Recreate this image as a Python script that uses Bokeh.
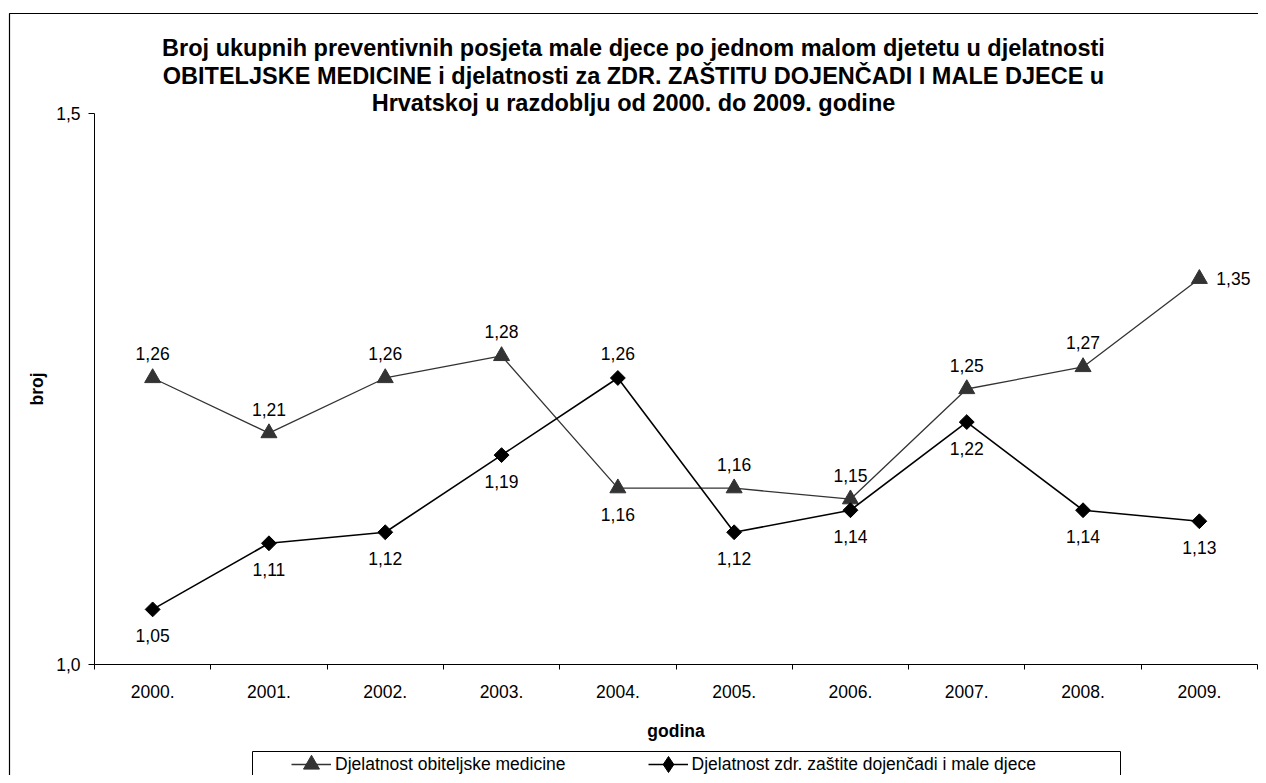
import numpy as np
from bokeh.plotting import figure
from bokeh.models import (Range1d, FixedTicker, BoxAnnotation, Label, Legend,
                          LegendItem, ColumnDataSource, LinearAxis)
from bokeh.core.properties import value
from bokeh.embed import file_html
from bokeh.resources import INLINE

# ---------------- data ----------------
years = ["2000.", "2001.", "2002.", "2003.", "2004.",
         "2005.", "2006.", "2007.", "2008.", "2009."]
obiteljska = [1.26, 1.21, 1.26, 1.28, 1.16, 1.16, 1.15, 1.25, 1.27, 1.35]
dojencad = [1.05, 1.11, 1.12, 1.19, 1.26, 1.12, 1.14, 1.22, 1.14, 1.13]
y_ticks = [1.0, 1.5]
name_obit = "Djelatnost obiteljske medicine"
name_doj = "Djelatnost zdr. zaštite dojenčadi i male djece"
title_lines = [
    "Broj ukupnih preventivnih posjeta male djece po jednom malom djetetu u djelatnosti",
    "OBITELJSKE MEDICINE i djelatnosti za ZDR. ZAŠTITU DOJENČADI I MALE DJECE u",
    "Hrvatskoj u razdoblju od 2000. do 2009. godine",
]
x_title = "godina"
y_title = "broj"

# label placement (style)
obit_pos = ["above"] * 4 + ["below"] + ["above"] * 4 + ["right"]
doj_pos = ["below"] * 4 + ["above"] + ["below"] * 5

FONT = "Liberation Sans"
FS = "17.5px"

def fmt(v):
    return f"{v:.2f}".replace(".", ",")

def fmt1(v):
    return f"{v:.1f}".replace(".", ",")

n = len(years)
xc = [i + 0.5 for i in range(n)]
bounds = list(range(n + 1))
y_lo, y_hi = min(y_ticks), max(y_ticks)

# ---------------- layout geometry (pixels) ----------------
W, H = 1258, 775
FL, FR, FT, FB = 94.0, 1257.0, 113.0, 664.0     # plot area in canvas px
ax_ = (FR - FL) / n                               # px per x unit
by_ = (FB - FT) / (y_hi - y_lo)                   # px per y unit
x0, x1 = -FL / ax_, (W - FL) / ax_
yb, yt = y_lo - (H - FB) / by_, y_hi + FT / by_

def X(px):
    return x0 + px / ax_

def Y(py):
    return yt - py / by_

p = figure(width=W, height=H, output_backend="svg", toolbar_location=None,
           x_range=Range1d(x0, x1), y_range=Range1d(yb, yt),
           x_axis_location=None, y_axis_location=None,
           min_border=0, title=None)
p.outline_line_color = None
p.background_fill_color = "white"
p.border_fill_color = "white"
p.grid.visible = False

# x axis
xa = LinearAxis(fixed_location=y_lo, bounds=(0, n))
xa.ticker = FixedTicker(ticks=xc, minor_ticks=bounds)
xa.major_label_overrides = {c: y for c, y in zip(xc, years)}
xa.major_tick_line_color = None
xa.major_tick_out = 0
xa.major_tick_in = 0
xa.minor_tick_line_color = "black"
xa.minor_tick_out = 5
xa.minor_tick_in = 0
xa.major_label_standoff = 15
xa.major_label_text_font = FONT
xa.major_label_text_font_size = FS
xa.major_label_text_color = "black"
xa.axis_line_color = "black"
xa.axis_label = x_title
xa.axis_label_text_font = FONT
xa.axis_label_text_font_style = "bold"
xa.axis_label_text_font_size = FS
xa.axis_label_text_color = "black"
xa.axis_label_standoff = 20
p.add_layout(xa, "below")

# y axis
ya = LinearAxis(fixed_location=0, bounds=(y_lo, y_hi))
ya.ticker = FixedTicker(ticks=y_ticks, minor_ticks=[])
ya.major_label_overrides = {t: fmt1(t) for t in y_ticks}
ya.major_tick_out = 6
ya.major_tick_in = 0
ya.major_tick_line_color = "black"
ya.minor_tick_line_color = None
ya.major_label_standoff = 8
ya.major_label_text_font = FONT
ya.major_label_text_font_size = FS
ya.major_label_text_color = "black"
ya.axis_line_color = "black"
ya.axis_label = y_title
ya.axis_label_text_font = FONT
ya.axis_label_text_font_style = "bold"
ya.axis_label_text_font_size = FS
ya.axis_label_text_color = "black"
ya.axis_label_standoff = 6
p.add_layout(ya, "left")

# series
l1 = p.line(xc, obiteljska, line_color="#333333", line_width=1.3)
m1 = p.scatter(xc, obiteljska, marker="triangle", size=16,
               fill_color="#333333", line_color="#333333")
l2 = p.line(xc, dojencad, line_color="black", line_width=1.6)
m2 = p.scatter(xc, dojencad, marker="square", angle=np.pi / 4, size=10.5,
               fill_color="black", line_color="black")
# legend-only marker (legend glyphs cannot be rotated); no visible point
m2_leg = p.scatter(x=[np.nan], y=[np.nan], marker="diamond", size=16,
                   fill_color="black", line_color="black")

# data labels
offs = {"above": (0, -24), "below": (0, 26), "right": (34, 0)}

def label_src(vals, pos):
    return ColumnDataSource(dict(
        x=xc, y=vals, t=[fmt(v) for v in vals],
        xo=[offs[q][0] for q in pos], yo=[offs[q][1] for q in pos]))

for vals, pos in ((obiteljska, obit_pos), (dojencad, doj_pos)):
    p.text(x="x", y="y", text="t", x_offset="xo", y_offset="yo",
           source=label_src(vals, pos), text_align="center",
           text_baseline="middle", text_font=value(FONT),
           text_font_size=FS, text_color="black")

# title
for line, py in zip(title_lines, [47, 75, 102]):
    p.add_layout(Label(x=X(633), y=Y(py), text=line, text_align="center",
                       text_baseline="middle", text_font=FONT,
                       text_font_style="bold", text_font_size="23.5px",
                       text_color="black"))

# outer chart border
p.add_layout(BoxAnnotation(left=X(9), right=X(W + 50), top=Y(13),
                           bottom=Y(H + 50), fill_alpha=0, line_color="black",
                           line_width=1.2, line_alpha=1, level="overlay"))
# legend box
p.add_layout(BoxAnnotation(left=X(252), right=X(1120), top=Y(751),
                           bottom=Y(H + 50), fill_alpha=0, line_color="black",
                           line_width=1, line_alpha=1, level="overlay"))

legend = Legend(items=[LegendItem(label=name_obit, renderers=[l1, m1]),
                       LegendItem(label=name_doj, renderers=[l2, m2_leg])],
                orientation="horizontal", location=(291, -9),
                padding=0, spacing=82, glyph_width=40, glyph_height=40,
                label_standoff=4, label_text_font=FONT,
                label_text_font_size=FS, label_text_color="black",
                border_line_color=None, background_fill_alpha=0,
                margin=0)
p.add_layout(legend, "center")

open("out.html", "w").write(file_html(p, INLINE))
